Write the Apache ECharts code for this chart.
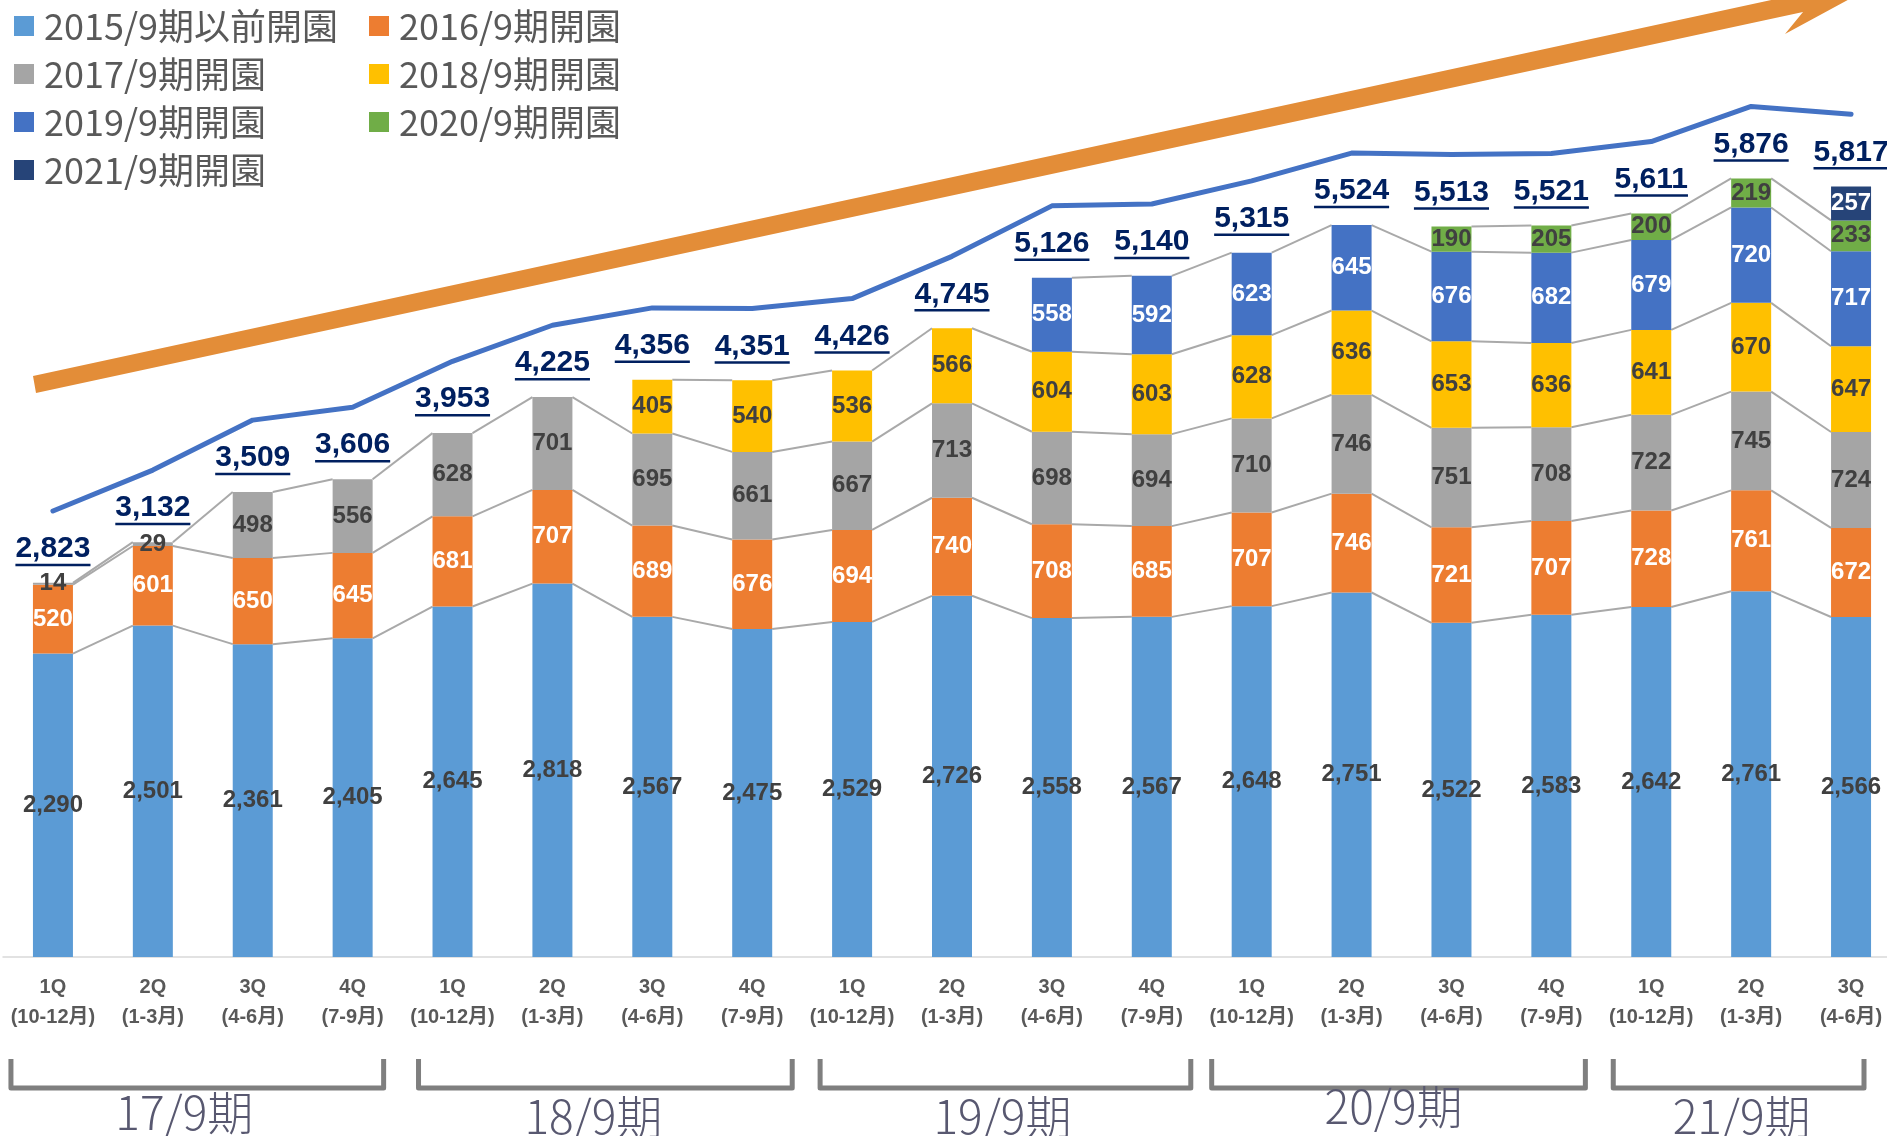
<!DOCTYPE html>
<html><head><meta charset="utf-8">
<script src="https://cdn.jsdelivr.net/npm/echarts@6/dist/echarts.min.js"></script>
<style>html,body{margin:0;padding:0;background:#fff;overflow:hidden;}#c{width:1901px;height:1136px;}</style>
</head><body><div id="c"></div>
<script>
// ---------- data ----------
const categories = [
  '1Q\n(10-12月)','2Q\n(1-3月)','3Q\n(4-6月)','4Q\n(7-9月)',
  '1Q\n(10-12月)','2Q\n(1-3月)','3Q\n(4-6月)','4Q\n(7-9月)',
  '1Q\n(10-12月)','2Q\n(1-3月)','3Q\n(4-6月)','4Q\n(7-9月)',
  '1Q\n(10-12月)','2Q\n(1-3月)','3Q\n(4-6月)','4Q\n(7-9月)',
  '1Q\n(10-12月)','2Q\n(1-3月)','3Q\n(4-6月)'
];
const seriesNames = ['2015/9期以前開園','2016/9期開園','2017/9期開園','2018/9期開園','2019/9期開園','2020/9期開園','2021/9期開園'];
const open2015 = [2290,2501,2361,2405,2645,2818,2567,2475,2529,2726,2558,2567,2648,2751,2522,2583,2642,2761,2566];
const open2016 = [520,601,650,645,681,707,689,676,694,740,708,685,707,746,721,707,728,761,672];
const open2017 = [14,29,498,556,628,701,695,661,667,713,698,694,710,746,751,708,722,745,724];
const open2018 = [null,null,null,null,null,null,405,540,536,566,604,603,628,636,653,636,641,670,647];
const open2019 = [null,null,null,null,null,null,null,null,null,null,558,592,623,645,676,682,679,720,717];
const open2020 = [null,null,null,null,null,null,null,null,null,null,null,null,null,null,190,205,200,219,233];
const open2021 = [null,null,null,null,null,null,null,null,null,null,null,null,null,null,null,null,null,null,257];
const totals = [2823,3132,3509,3606,3953,4225,4356,4351,4426,4745,5126,5140,5315,5524,5513,5521,5611,5876,5817];
const periodLabels = ['17/9期','18/9期','19/9期','20/9期','21/9期'];
const periodStart = [0,4,8,12,16];
const periodEnd = [3,7,11,15,18];

// ---------- styles ----------
const segData = [open2015, open2016, open2017, open2018, open2019, open2020, open2021];
const colors = ['#5B9BD5','#ED7D31','#A5A5A5','#FFC000','#4472C4','#70AD47','#264478'];
const labelColors = ['#404040','#ffffff','#404040','#404040','#ffffff','#404040','#ffffff'];
const NUMFONT = '"Liberation Sans", Arial, sans-serif';
const CJKFONT = '"Noto Sans CJK JP", "Noto Sans", sans-serif';
const BARW = 40;

function cum(k, i) {
  let s = 0;
  for (let j = 0; j <= k; j++) s += (segData[j][i] || 0);
  return s;
}
const fmt = v => Number(v).toLocaleString('en-US');

const connectorData = [];
for (let k = 0; k < segData.length; k++) {
  for (let i = 0; i < categories.length - 1; i++) {
    if (segData[k][i] != null && segData[k][i + 1] != null) connectorData.push([i, k]);
  }
}

const measureCtx = document.createElement('canvas').getContext('2d');
measureCtx.font = 'bold 30px "Liberation Sans"';

const chart = echarts.init(document.getElementById('c'));

const series = segData.map((arr, k) => ({
  name: seriesNames[k],
  type: 'bar',
  stack: 'total',
  barWidth: BARW,
  data: arr,
  itemStyle: { color: colors[k] },
  z: 3,
  label: {
    show: true, position: 'inside',
    formatter: p => fmt(p.value),
    fontFamily: NUMFONT, fontSize: 24, fontWeight: 'bold',
    color: labelColors[k]
  }
}));

series.push({
  name: 'connectors', type: 'custom', z: 2, silent: true,
  data: connectorData,
  renderItem: (params, api) => {
    const i = api.value(0), k = api.value(1);
    const p1 = api.coord([i, cum(k, i)]);
    const p2 = api.coord([i + 1, cum(k, i + 1)]);
    return { type: 'line', shape: { x1: p1[0] + BARW / 2, y1: p1[1], x2: p2[0] - BARW / 2, y2: p2[1] },
      style: { stroke: '#A9A9A9', lineWidth: 2 } };
  }
});

series.push({
  name: 'totalLabels', type: 'custom', z: 5, silent: true,
  data: totals.map((v, i) => [i, v]),
  renderItem: (params, api) => {
    const i = api.value(0), v = api.value(1);
    const p = api.coord([i, v]);
    const txt = fmt(v);
    const w = measureCtx.measureText(txt).width;
    return { type: 'group', children: [
      { type: 'text', x: p[0], y: p[1] - 34,
        style: { text: txt, fontFamily: NUMFONT, fontSize: 30, fontWeight: 'bold', fill: '#002060',
          align: 'center', verticalAlign: 'middle' } },
      { type: 'line', shape: { x1: p[0] - w / 2, y1: p[1] - 18, x2: p[0] + w / 2, y2: p[1] - 18 },
        style: { stroke: '#002060', lineWidth: 2.5 } }
    ] };
  }
});

series.push({
  name: 'totalLine', type: 'line', yAxisIndex: 1, data: totals,
  showSymbol: false, symbol: 'none', z: 4,
  lineStyle: { color: '#4472C4', width: 5, cap: 'round', join: 'round' }
});

const legendCommon = {
  orient: 'vertical', icon: 'rect', itemWidth: 20, itemHeight: 20, itemGap: 8,
  padding: 0, selectedMode: false,
  textStyle: { fontFamily: CJKFONT, fontSize: 36, color: '#595959', lineHeight: 40, padding: [0, 0, 0, 5] }
};

chart.setOption({
  animation: false,
  backgroundColor: '#ffffff',
  grid: { left: 3, right: 0, top: 29.5, bottom: 179 },
  legend: [
    Object.assign({ left: 14, top: 6, data: [seriesNames[0], seriesNames[2], seriesNames[4], seriesNames[6]] }, legendCommon),
    Object.assign({ left: 369, top: 6, data: [seriesNames[1], seriesNames[3], seriesNames[5]] }, legendCommon)
  ],
  xAxis: {
    type: 'category', data: categories,
    axisTick: { show: false },
    axisLine: { lineStyle: { color: '#D9D9D9', width: 1.5 } },
    axisLabel: { interval: 0, margin: 15, fontFamily: NUMFONT + ', "Noto Sans CJK JP"', fontSize: 20,
      fontWeight: 'bold', color: '#595959', lineHeight: 30 }
  },
  yAxis: [
    { type: 'value', min: 0, max: 7000, show: false, splitLine: { show: false } },
    { type: 'value', min: -543, max: 6457, show: false, splitLine: { show: false } }
  ],
  series: series
});

// ---------- decorations: arrow and period brackets ----------
const graphics = [];
graphics.push({
  type: 'polygon', z: 1, silent: true,
  shape: { points: [[33,376],[1799,-6],[1774,-18],[1868,-11],[1785,34],[1803,12],[36,393]] },
  style: { fill: '#E38D38' }
});
const bracketPadL = [42, 34, 32, 40, 38];
const bracketPadR = [31, 40, 39, 34, 34];
const labelShift = [-13, -12, -3, -5, 3];
const labelY = [1113, 1117, 1117, 1107, 1117];
for (let g = 0; g < periodLabels.length; g++) {
  const xs = chart.convertToPixel({ xAxisIndex: 0 }, periodStart[g]);
  const xe = chart.convertToPixel({ xAxisIndex: 0 }, periodEnd[g]);
  const x1 = xs - bracketPadL[g];
  const x2 = Math.min(xe + bracketPadR[g], 1864);
  graphics.push({
    type: 'polyline', silent: true,
    shape: { points: [[x1, 1059], [x1, 1088], [x2, 1088], [x2, 1059]] },
    style: { stroke: '#7F7F7F', lineWidth: 5, lineJoin: 'round', fill: null }
  });
  graphics.push({
    type: 'text', silent: true, x: (x1 + x2) / 2 + labelShift[g], y: labelY[g],
    style: { text: periodLabels[g], fontFamily: CJKFONT, fontSize: 46, fontWeight: 300, fill: '#585870',
      align: 'center', verticalAlign: 'middle' }
  });
}
chart.setOption({ graphic: graphics });
</script>
</body></html>
